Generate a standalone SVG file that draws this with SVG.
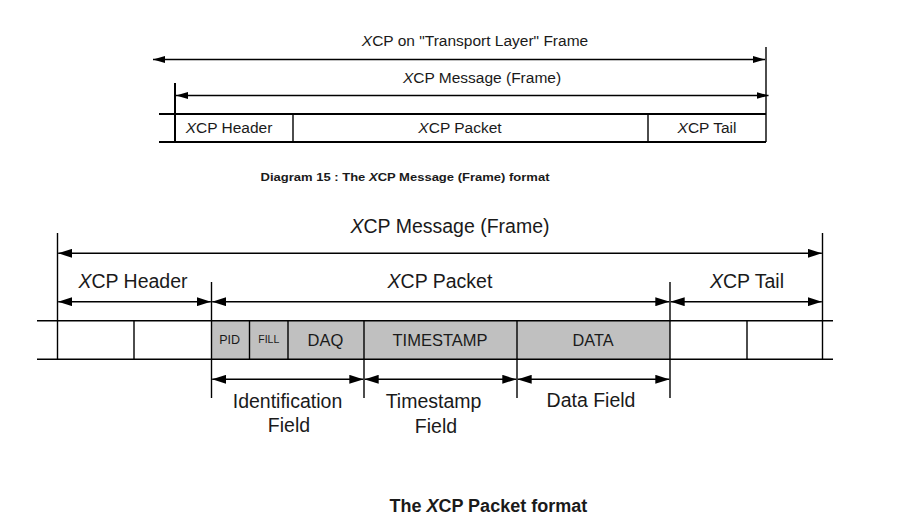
<svg xmlns="http://www.w3.org/2000/svg" width="907" height="531" viewBox="0 0 907 531">
<style>
  .t { font-family: "Liberation Sans", Arial, sans-serif; fill: #1a1a1a; text-anchor: middle; }
  .s { font-size: 15.5px; }
  .b { font-size: 19.5px; }
  .ln { stroke: #000; fill: none; }
  .thin { stroke-width: 1.4; }
  .thick { stroke-width: 2; }
  .cell { fill: #c0c0c0; stroke: none; }
  .cap { font-weight: bold; }
</style>
<defs>
  <marker id="ah" viewBox="0 0 14 9" refX="14" refY="4.5" markerWidth="14" markerHeight="9" markerUnits="userSpaceOnUse" orient="auto-start-reverse">
    <path d="M0,0 L14,4.5 L0,9 z" fill="#000"/>
  </marker>
  <marker id="ahs" viewBox="0 0 12 7" refX="12" refY="3.5" markerWidth="12" markerHeight="7" markerUnits="userSpaceOnUse" orient="auto-start-reverse">
    <path d="M0,0 L12,3.5 L0,7 z" fill="#000"/>
  </marker>
</defs>
<rect width="907" height="531" fill="#fff"/>

<!-- ===== Top diagram ===== -->
<g id="top-frame">
  <line class="ln thick" x1="159" y1="114" x2="766" y2="114"/>
  <line class="ln thick" x1="159" y1="142" x2="766" y2="142"/>
  <line class="ln thick" x1="175" y1="83" x2="175" y2="142"/>
  <line class="ln thin" x1="766" y1="47" x2="766" y2="142"/>
</g>
<g id="top-header">
  <text class="t s" x="229" y="132.5"><tspan font-style="italic">X</tspan>CP Header</text>
</g>
<g id="top-packet">
  <line class="ln thin" x1="293" y1="114" x2="293" y2="142"/>
  <text class="t s" x="460" y="132.5"><tspan font-style="italic">X</tspan>CP Packet</text>
</g>
<g id="top-tail">
  <line class="ln thin" x1="648" y1="114" x2="648" y2="142"/>
  <text class="t s" x="707" y="132.5"><tspan font-style="italic">X</tspan>CP Tail</text>
</g>
<g id="top-labels">
  <text class="t s" x="475" y="45.5"><tspan font-style="italic">X</tspan>CP on "Transport Layer" Frame</text>
  <text class="t s" x="482" y="83"><tspan font-style="italic">X</tspan>CP Message (Frame)</text>
</g>
<g id="caption-top">
  <text class="t cap" x="405" y="180.5" font-size="11" textLength="289" lengthAdjust="spacingAndGlyphs">Diagram 15 : The <tspan font-style="italic">X</tspan>CP Message (Frame) format</text>
</g>

<!-- ===== Bottom diagram ===== -->
<g id="bottom-frame">
  <rect class="cell" x="211.5" y="320.7" width="458.5" height="38.6"/>
  <line class="ln thin" x1="37" y1="320.7" x2="833" y2="320.7"/>
  <line class="ln thin" x1="37" y1="359.3" x2="833" y2="359.3"/>
  <line class="ln thin" x1="57.5" y1="233" x2="57.5" y2="359.3"/>
  <line class="ln thin" x1="822.5" y1="233" x2="822.5" y2="359.3"/>
  <line class="ln thin" x1="211.5" y1="282" x2="211.5" y2="398"/>
  <line class="ln thin" x1="670" y1="282" x2="670" y2="398"/>
</g>
<g id="header-cells">
  <line class="ln thin" x1="134" y1="320.7" x2="134" y2="359.3"/>
  <text class="t b" x="133" y="288"><tspan font-style="italic">X</tspan>CP Header</text>
</g>
<g id="pid">
  <text class="t" x="229.7" y="343.5" font-size="12.5">PID</text>
</g>
<g id="fill">
  <line class="ln thin" x1="249.5" y1="320.7" x2="249.5" y2="359.3"/>
  <text class="t" x="268.8" y="343" font-size="10" textLength="21" lengthAdjust="spacingAndGlyphs">FILL</text>
</g>
<g id="daq">
  <line class="ln thin" x1="288" y1="320.7" x2="288" y2="359.3"/>
  <text class="t" x="325.5" y="345.5" font-size="16.5">DAQ</text>
</g>
<g id="timestamp">
  <line class="ln thin" x1="364" y1="320.7" x2="364" y2="398"/>
  <text class="t" x="440" y="345.5" font-size="16.5">TIMESTAMP</text>
</g>
<g id="data">
  <line class="ln thin" x1="517" y1="320.7" x2="517" y2="398"/>
  <text class="t" x="593" y="346" font-size="16.3">DATA</text>
</g>
<g id="tail-cells">
  <line class="ln thin" x1="747" y1="320.7" x2="747" y2="359.3"/>
  <text class="t b" x="747" y="288"><tspan font-style="italic">X</tspan>CP Tail</text>
</g>
<g id="bottom-labels">
  <text class="t b" x="450" y="233"><tspan font-style="italic">X</tspan>CP Message (Frame)</text>
  <text class="t b" x="440" y="287.5"><tspan font-style="italic">X</tspan>CP Packet</text>
  <text class="t b" x="287.5" y="408">Identification</text>
  <text class="t b" x="289" y="432">Field</text>
  <text class="t b" x="433.5" y="407.5">Timestamp</text>
  <text class="t b" x="436" y="432.5">Field</text>
  <text class="t b" x="591" y="406.5">Data Field</text>
</g>
<g id="caption-bottom">
  <text class="t cap" x="488.3" y="512" font-size="18">The <tspan font-style="italic">X</tspan>CP Packet format</text>
</g>

<!-- ===== Connectors ===== -->
<g id="connectors" class="ln thin">
  <line x1="153" y1="59.5" x2="765" y2="59.5" marker-start="url(#ahs)" marker-end="url(#ahs)"/>
  <line x1="176" y1="95.5" x2="768.5" y2="95.5" marker-start="url(#ahs)" marker-end="url(#ahs)"/>
  <line x1="58.2" y1="253.3" x2="821.8" y2="253.3" marker-start="url(#ah)" marker-end="url(#ah)"/>
  <line x1="58.2" y1="301.7" x2="210.8" y2="301.7" marker-start="url(#ah)" marker-end="url(#ah)"/>
  <line x1="212.2" y1="301.7" x2="669.3" y2="301.7" marker-start="url(#ah)" marker-end="url(#ah)"/>
  <line x1="670.7" y1="301.7" x2="821.8" y2="301.7" marker-start="url(#ah)" marker-end="url(#ah)"/>
  <line x1="212.2" y1="379.3" x2="363.3" y2="379.3" marker-start="url(#ah)" marker-end="url(#ah)"/>
  <line x1="364.7" y1="379.3" x2="516.3" y2="379.3" marker-start="url(#ah)" marker-end="url(#ah)"/>
  <line x1="517.7" y1="379.3" x2="669.3" y2="379.3" marker-start="url(#ah)" marker-end="url(#ah)"/>
</g>
</svg>
